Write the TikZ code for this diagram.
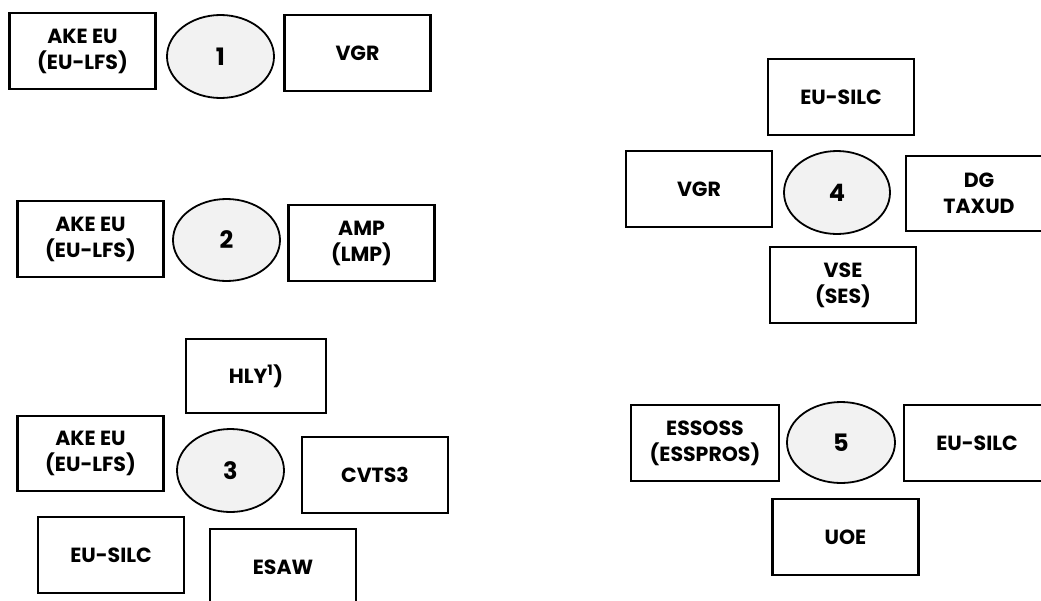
\documentclass[tikz,border=0pt]{standalone}
\usepackage{fontspec}
\setmainfont{Poppins}
\usetikzlibrary{shapes.geometric}
\begin{document}
\begin{tikzpicture}[x=1pt,y=-1pt,
  box/.style={draw=black, line width=2.2pt, rectangle, inner sep=0pt,
    minimum width=146pt, minimum height=76pt, align=center,
    font=\fontsize{20.5}{26}\selectfont\bfseries},
  ell/.style={draw=black, line width=1.8pt, ellipse, fill=black!5, inner sep=0pt,
    minimum width=107pt, minimum height=83pt,
    font=\fontsize{24}{26}\selectfont\bfseries}]
\clip (0,0) rectangle (1041,600);
\fill[white] (0,0) rectangle (1041,600);
% group 1
\node[box] (a1) at (82.5,51) {AKE EU\\(EU-LFS)};
\node[ell] (e1) at (220.5,56.5) {1};
\node[box] (v1) at (357.5,53) {VGR};
% group 2
\node[box] (a2) at (90.5,239) {AKE EU\\(EU-LFS)};
\node[ell, minimum height=82pt] (e2) at (226.5,240) {2};
\node[box] (m2) at (361.5,243) {AMP\\(LMP)};
% group 3
\node[box, minimum width=140pt, minimum height=74pt] (h3) at (256,376) {HLY\textsuperscript{1})};
\node[box, minimum height=75pt] (a3) at (90.5,453.5) {AKE EU\\(EU-LFS)};
\node[ell] (e3) at (230.5,470.5) {3};
\node[box] (c3) at (375,475) {CVTS3};
\node[box] (s3) at (111,555) {EU-SILC};
\node[box] (w3) at (283,567) {ESAW};
% group 4
\node[box] (u4) at (841,97) {EU-SILC};
\node[box] (g4) at (699,189) {VGR};
\node[ell, minimum width=106pt] (e4) at (837,192.5) {4};
\node[box, minimum height=75pt] (d4) at (979,193.5) {DG\\TAXUD};
\node[box] (v4) at (843,285) {VSE\\(SES)};
% group 5
\node[box, minimum width=148pt] (o5) at (705,443) {ESSOSS\\(ESSPROS)};
\node[ell, minimum width=108pt, minimum height=81pt] (e5) at (841,442.5) {5};
\node[box] (s5) at (977,443) {EU-SILC};
\node[box] (u5) at (845.5,537) {UOE};
\end{tikzpicture}
\end{document}
